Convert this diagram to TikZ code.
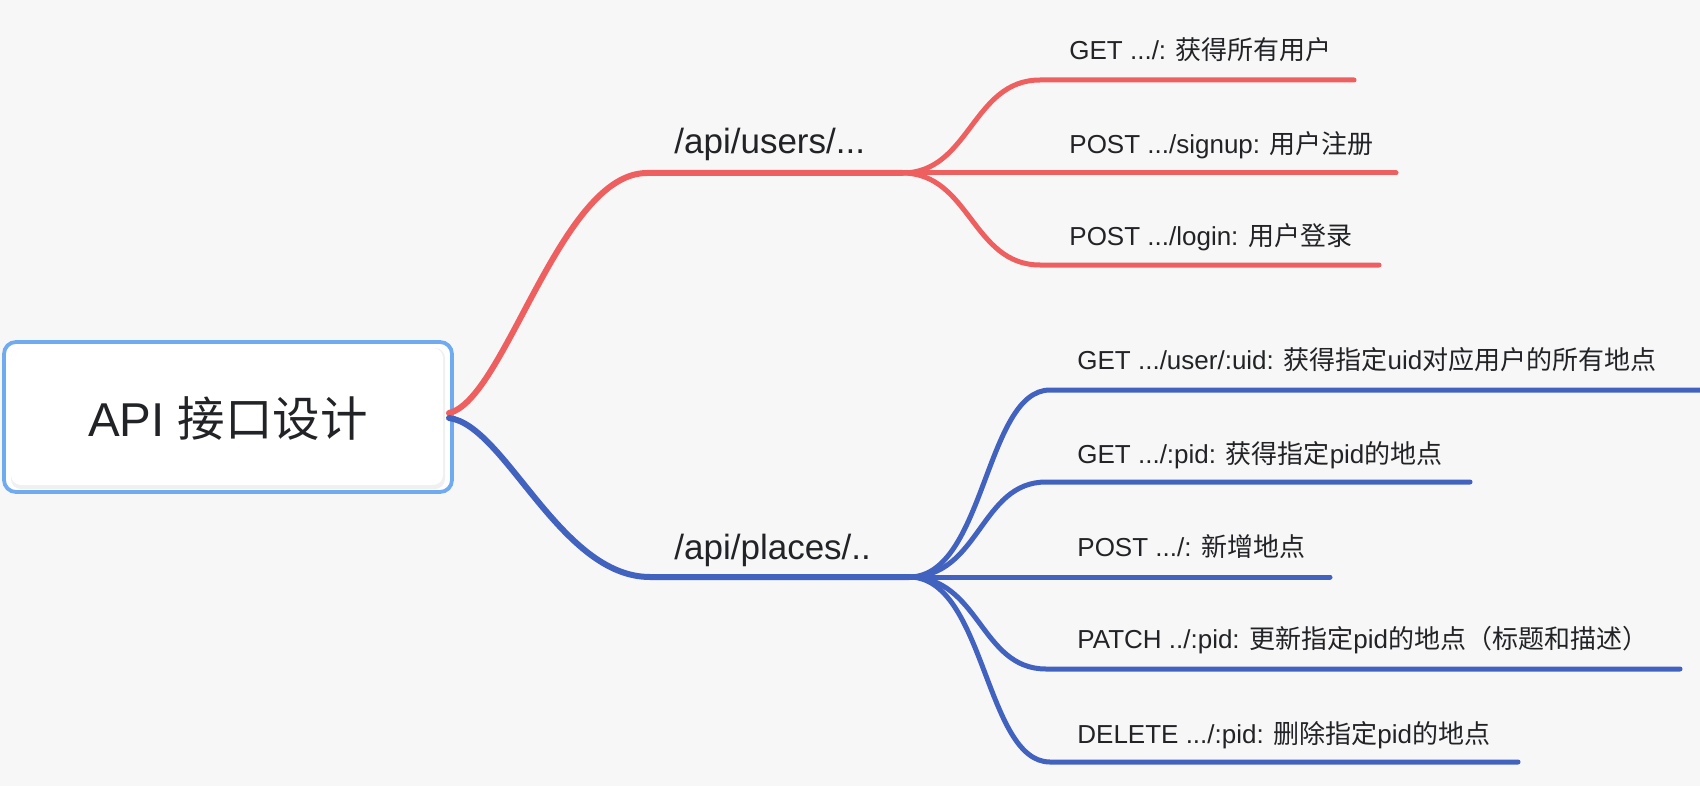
\documentclass[tikz,border=0pt]{standalone}
\usepackage{fontspec}
\newfontfamily\cjk{Noto Sans CJK SC}
\newfontfamily\lat{Liberation Sans}
\newcommand\zh[1]{{\cjk #1}}
\definecolor{bg}{HTML}{F7F7F7}
\definecolor{redb}{HTML}{EE6060}
\definecolor{blueb}{HTML}{4262C0}
\definecolor{boxb}{HTML}{70ABF2}
\definecolor{txt}{HTML}{222326}
\begin{document}
\begin{tikzpicture}[x=0.5pt,y=-0.5pt,
  leaf/.style={anchor=west,inner sep=0pt,text=txt,font=\lat\fontsize{13}{15}\selectfont},
  branch/.style={anchor=west,inner sep=0pt,text=txt,font=\lat\fontsize{17.5}{20}\selectfont},
  rootbox/.style={draw=boxb,line width=1.9pt,fill=white,rounded corners=6pt,minimum width=224pt,minimum height=75pt,inner sep=0pt},
  roottxt/.style={inner sep=0pt,text=txt,font=\lat\fontsize{23.75}{28}\selectfont},
  mainline/.style={line width=3pt,line cap=round},
  leafline/.style={line width=2.5pt,line cap=round},
]
\fill[bg] (0,0) rectangle (1700,786);
\useasboundingbox (0,0) rectangle (1700,786);
% root box
\node[rootbox] (root) at (228,417) {};
\fill[gray!12,rounded corners=5pt] (11,348) rectangle (445,489);
\fill[white,rounded corners=5pt] (11,348) rectangle (443,485);
\node[roottxt] (roottext) at (228,419) {API \zh{接口设计}};
\coordinate (rs) at (449,413);
\coordinate (bs) at (449,418);
% branches
\node[branch] (users) at (674,144) {/api/users/...};
\node[branch] (places) at (674,550) {/api/places/..};
\coordinate (uh) at (647,173);
\coordinate (uf) at (902,173);
\coordinate (ph) at (650,577);
\coordinate (pf) at (909,577);
\draw[redb,mainline] (rs) .. controls (505,400) and (560,173) .. (uh) -- (uf);
\draw[blueb,mainline] (bs) .. controls (505,425) and (560,577) .. (ph) -- (pf);
% users leaves
\node[leaf] (u1) at (1069,50) {GET .../: \zh{获得所有用户}};
\node[leaf] (u2) at (1069,145) {POST .../signup: \zh{用户注册}};
\node[leaf] (u3) at (1069,237) {POST .../login: \zh{用户登录}};
\coordinate (u1a) at (1040,80);  \coordinate (u1b) at (1354,80);
\coordinate (u2b) at (1396,173);
\coordinate (u3a) at (1040,265); \coordinate (u3b) at (1379,265);
\draw[redb,leafline] (uf) .. controls (970,173) and (972,80) .. (u1a) -- (u1b);
\draw[redb,leafline] (uf) -- (u2b);
\draw[redb,leafline] (uf) .. controls (970,173) and (972,265) .. (u3a) -- (u3b);
% places leaves
\node[leaf] (p1) at (1077,360) {GET .../user/:uid: \zh{获得指定}uid\zh{对应用户的所有地点}};
\node[leaf] (p2) at (1077,455) {GET .../:pid: \zh{获得指定}pid\zh{的地点}};
\node[leaf] (p3) at (1077,547) {POST .../: \zh{新增地点}};
\node[leaf] (p4) at (1077,640) {PATCH ../:pid: \zh{更新指定}pid\zh{的地点（标题和描述）}};
\node[leaf] (p5) at (1077,735) {DELETE .../:pid: \zh{删除指定}pid\zh{的地点}};
\coordinate (p1a) at (1050,390); \coordinate (p1b) at (1700,390);
\coordinate (p2a) at (1046,482); \coordinate (p2b) at (1470,482);
\coordinate (p3b) at (1330,577);
\coordinate (p4a) at (1046,669); \coordinate (p4b) at (1680,669);
\coordinate (p5a) at (1050,762); \coordinate (p5b) at (1518,762);
\draw[blueb,leafline] (pf) .. controls (985,577) and (985,390) .. (p1a) -- (p1b);
\draw[blueb,leafline] (pf) .. controls (980,577) and (980,482) .. (p2a) -- (p2b);
\draw[blueb,leafline] (pf) -- (p3b);
\draw[blueb,leafline] (pf) .. controls (980,577) and (980,669) .. (p4a) -- (p4b);
\draw[blueb,leafline] (pf) .. controls (985,577) and (985,762) .. (p5a) -- (p5b);
\end{tikzpicture}
\end{document}
